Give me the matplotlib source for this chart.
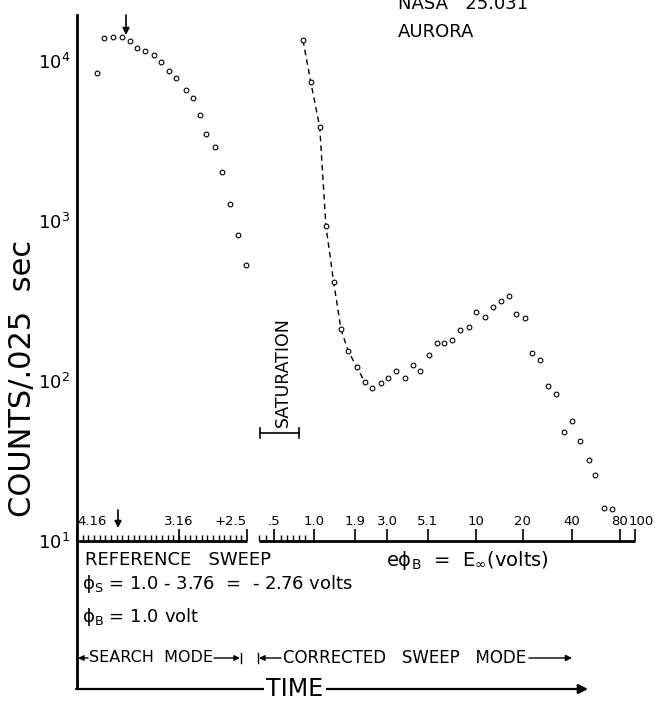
import matplotlib
matplotlib.use("Agg")
import matplotlib.pyplot as plt
import matplotlib.transforms as mtransforms
from matplotlib.ticker import NullLocator
import numpy as np

plt.rcParams['font.family'] = ['DejaVu Sans']
plt.rcParams['mathtext.fontset'] = 'dejavusans'
plt.rcParams['mathtext.default'] = 'regular'

# --- data (time in arbitrary units 0..100, counts per .025 s) ---
search_t = [3.6, 4.9, 6.5, 8.1, 9.5, 10.8, 12.1, 13.8, 15.1, 16.5,
            17.8, 19.5, 20.7, 22.1, 23.2, 24.8, 26.0, 27.5, 28.9, 30.2]
search_counts = [8400, 13900, 14200, 14200, 13400, 12100, 11500, 10900, 9860, 8700,
                 7870, 6560, 5900, 4600, 3500, 2900, 2010, 1280, 820, 533]

corrected_t = [40.5, 41.9, 43.5, 44.6, 46.0, 47.3, 48.6, 50.1, 51.6, 52.9,
               54.4, 55.8, 57.2, 58.7, 60.2, 61.5, 63.0, 64.5, 65.8, 67.2,
               68.6, 70.2, 71.5, 73.1, 74.6, 75.9, 77.4, 78.7, 80.2, 81.5,
               82.9, 84.4, 85.8, 87.3, 88.7, 90.1, 91.7, 92.9, 94.4, 95.9]
corrected_counts = [13500, 7360, 3870, 935, 415, 211, 154, 123, 98, 91,
                    97, 105, 116, 105, 126, 115, 145, 172, 173, 180,
                    209, 218, 271, 250, 289, 318, 340, 264, 248, 150,
                    135, 93, 83, 48, 56, 42, 32, 26, 16.1, 15.9]
n_fit = 9  # dashed curve drawn through the first points of the corrected sweep

# sweep voltage scale printed along the bottom
volt_ticks = [0, 18.28, 30.47, 35.3, 42.5, 49.8, 55.6, 62.9, 71.5, 79.9, 88.7, 97.3, 100]
volt_labels = ['4.16', '3.16', '+2.5', '.5', '1.0', '1.9', '3.0', '5.1',
               '10', '20', '40', '80', '100']
search_minor = np.linspace(0, 30.47, 31)
corrected_minor = [32.6, 33.9, 36.6, 37.6, 38.7, 39.8, 40.9]

W, H = 655, 701
fig = plt.figure(figsize=(W / 100, H / 100), dpi=100)

x0, x1, y_top, y_bot = 77, 635, 15, 541
ax = fig.add_axes([x0 / W, (H - y_bot) / H, (x1 - x0) / W, (y_bot - y_top) / H])
ax.set_facecolor('none')
ax.set_yscale('log')
ax.set_ylim(10, 10 ** (1 + (y_bot - y_top) / 160))
ax.set_xlim(0, 100)

ax.plot(corrected_t[:n_fit], corrected_counts[:n_fit], ls=(0, (4, 3)), lw=1.0, color='black')
ax.plot(search_t, search_counts, 'o', ms=3.4, mfc='white', mec='black', mew=0.8, clip_on=False)
ax.plot(corrected_t, corrected_counts, 'o', ms=3.4, mfc='white', mec='black', mew=0.8, clip_on=False)

for s in ['top', 'right', 'bottom']:
    ax.spines[s].set_visible(False)
ax.spines['left'].set_linewidth(2)

ax.set_yticks([10, 100, 1000, 10000])
ax.set_yticklabels([r'$10^1$', r'$10^2$', r'$10^3$', r'$10^4$'])
ax.yaxis.set_minor_locator(NullLocator())
ax.tick_params(axis='y', length=0, pad=5, labelsize=13)

# two segments of the voltage scale
ax.hlines(10, 0, 30.47, color='black', lw=2, clip_on=False)
ax.hlines(10, 32.6, 100, color='black', lw=2, clip_on=False)
ax.set_xticks(volt_ticks)
ax.set_xticklabels(volt_labels)
ax.set_xticks(list(search_minor) + corrected_minor, minor=True)
ax.tick_params(axis='x', which='major', direction='in', length=9, width=1.2, pad=-19, labelsize=9.5)
ax.tick_params(axis='x', which='minor', direction='in', length=4, width=1)
tl = ax.get_xticklabels()
tl[0].set_ha('left')
tl[2].set_ha('right')
tl[-1].set_transform(tl[-1].get_transform() + mtransforms.ScaledTranslation(6 / 100, 0, fig.dpi_scale_trans))

# --- annotation layer in pixel coordinates ---
ov = fig.add_axes([0, 0, 1, 1])
ov.set_xlim(0, W)
ov.set_ylim(H, 0)
ov.axis('off')

ov.plot([x0, x0], [y_bot, 689], color='black', lw=2, solid_capstyle='butt')
ov.annotate('', xy=(588, 689), xytext=(x0 - 1, 689),
            arrowprops=dict(arrowstyle='-|>', lw=1.6, color='black', mutation_scale=14, shrinkA=0, shrinkB=0))
ov.text(295, 689, 'TIME', fontsize=17, ha='center', va='center',
        bbox=dict(facecolor='white', edgecolor='none', pad=2))

ov.text(23, 378, 'COUNTS/.025  sec', rotation=90, fontsize=22, ha='center', va='center')

ov.text(398, 4, 'NASA   25.031', fontsize=13, ha='left', va='center')
ov.text(398, 32, 'AURORA', fontsize=13, ha='left', va='center')

# peak arrows
ov.annotate('', xy=(126, 35), xytext=(126, 15),
            arrowprops=dict(arrowstyle='-|>', lw=1.2, color='black', mutation_scale=10, shrinkA=0, shrinkB=0))
ov.annotate('', xy=(118, 528), xytext=(118, 510),
            arrowprops=dict(arrowstyle='-|>', lw=1.2, color='black', mutation_scale=10, shrinkA=0, shrinkB=0))

# saturation marker
ov.plot([260, 299], [433, 433], color='black', lw=1.2)
ov.plot([260, 260], [428, 438], color='black', lw=1.2)
ov.plot([299, 299], [428, 438], color='black', lw=1.2)
ov.text(283, 427, 'SATURATION', rotation=90, fontsize=12.5, ha='center', va='bottom')

ov.text(85, 560, 'REFERENCE   SWEEP', fontsize=13, ha='left', va='center')
ov.text(82, 584, r'$\phi_S$ = 1.0 - 3.76  =  - 2.76 volts', fontsize=13, ha='left', va='center')
ov.text(82, 617, r'$\phi_B$ = 1.0 volt', fontsize=13, ha='left', va='center')
ov.text(386, 560, r'e$\phi_B$  =  E$_{\infty}$(volts)', fontsize=14, ha='left', va='center')

# mode row
ym = 658
ov.annotate('', xy=(x0 + 1, ym), xytext=(88, ym),
            arrowprops=dict(arrowstyle='-|>', lw=1, color='black', mutation_scale=8, shrinkA=0, shrinkB=0))
ov.text(89, ym, 'SEARCH  MODE', fontsize=11.5, ha='left', va='center')
ov.annotate('', xy=(240, ym), xytext=(214, ym),
            arrowprops=dict(arrowstyle='-|>', lw=1, color='black', mutation_scale=8, shrinkA=0, shrinkB=0))
ov.plot([241, 241], [653, 663], color='black', lw=1)
ov.plot([258, 258], [653, 663], color='black', lw=1)
ov.annotate('', xy=(259, ym), xytext=(281, ym),
            arrowprops=dict(arrowstyle='-|>', lw=1, color='black', mutation_scale=8, shrinkA=0, shrinkB=0))
ov.text(283, ym, 'CORRECTED   SWEEP   MODE', fontsize=12, ha='left', va='center')
ov.annotate('', xy=(572, ym), xytext=(529, ym),
            arrowprops=dict(arrowstyle='-|>', lw=1, color='black', mutation_scale=9, shrinkA=0, shrinkB=0))

fig.savefig('out.png', dpi=100)
